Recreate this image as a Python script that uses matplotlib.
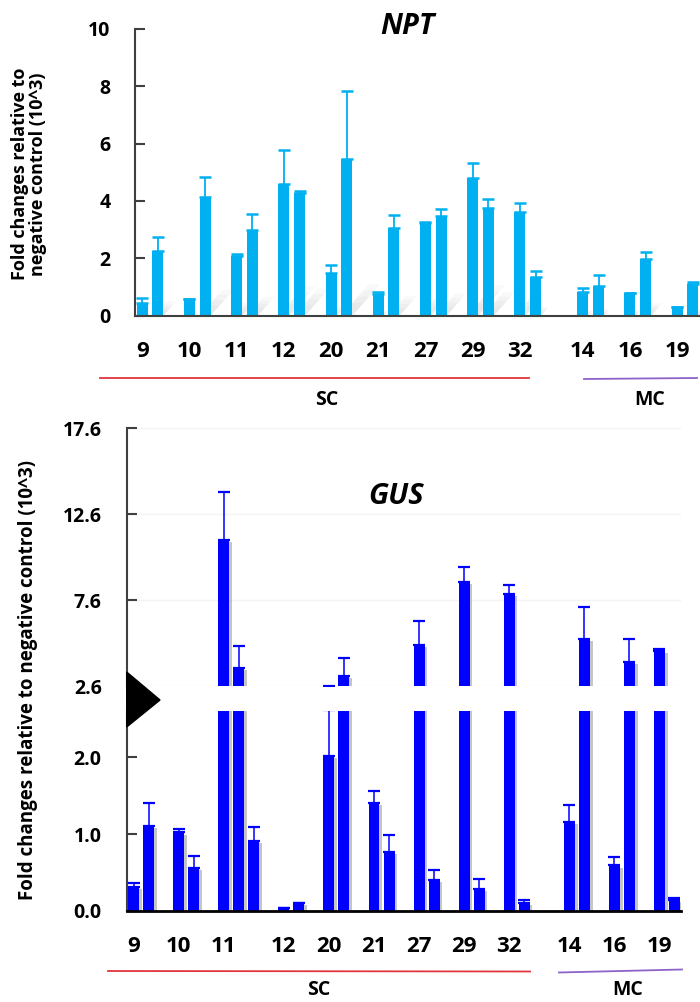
import matplotlib
matplotlib.use('Agg')
import matplotlib.pyplot as plt
import matplotlib.patheffects as pe
from matplotlib.patches import Polygon
from matplotlib.lines import Line2D
import numpy as np

plt.rcParams['font.family'] = ['Open Sans', 'DejaVu Sans']
plt.rcParams['font.weight'] = 'bold'

# ---------------- data ----------------
groups = ['9', '10', '11', '12', '20', '21', '27', '29', '32', '14', '16', '19']
clusters = ['SC', 'MC']
n_sc = 9  # first 9 groups belong to SC, remaining to MC

npt_values = [[0.44, 2.26], [0.57, 4.13], [2.08, 3.00], [4.59, 4.28], [1.48, 5.46],
              [0.77, 3.05], [3.22, 3.47], [4.80, 3.77], [3.61, 1.36], [0.84, 1.02],
              [0.79, 1.96], [0.32, 1.09]]
npt_errors = [[0.16, 0.47], [0.0, 0.71], [0.07, 0.56], [1.17, 0.08], [0.29, 2.37],
              [0.05, 0.46], [0.04, 0.25], [0.53, 0.28], [0.33, 0.20], [0.13, 0.39],
              [0.0, 0.26], [0.0, 0.08]]

gus_values = [[0.31, 1.10], [1.02, 0.56], [11.10, 3.67, 0.91], [0.04, 0.10], [2.02, 3.20],
              [1.40, 0.76], [4.97, 0.40], [8.66, 0.28], [7.94, 0.10], [1.16, 5.36],
              [0.59, 4.00], [4.64, 0.14]]
gus_errors = [[0.05, 0.31], [0.04, 0.15], [2.80, 1.24, 0.18], [0.0, 0.0], [0.60, 1.03],
              [0.16, 0.23], [1.44, 0.13], [0.89, 0.13], [0.52, 0.04], [0.22, 1.84],
              [0.11, 1.34], [0.12, 0.03]]

npt_ticks = [0, 2, 4, 6, 8, 10]
gus_upper_ticks = [2.6, 7.6, 12.6, 17.6]
gus_lower_ticks = [0.0, 1.0, 2.0]

NPT_COLOR = '#00B0F0'
GUS_COLOR = '#0000FF'
AX_COLOR = '#404040'


def layout(values):
    """slot positions: bars of a group side by side, one empty slot between groups,
    one extra empty slot between the SC and MC clusters"""
    pos = 0
    xs, first = [], []
    for i, vals in enumerate(values):
        if i == n_sc:
            pos += 1
        first.append(pos)
        for k, v in enumerate(vals):
            xs.append(pos + k)
        pos += len(vals) + 1
    return np.array(xs, float), first


def flat(lst):
    return np.array([v for g in lst for v in g], float)


W, H = 700, 1002
fig = plt.figure(figsize=(W / 100, H / 100), dpi=100)


def fx(px):
    return px / W


def fy(py):
    return 1 - py / H


def box(l, t, r, b):
    return [fx(l), fy(b), fx(r) - fx(l), fy(t) - fy(b)]


# ---------------- NPT panel ----------------
ax1 = fig.add_axes(box(134.7, 28.7, 700, 315.7))
x1, first1 = layout(npt_values)
v1 = flat(npt_values)
e1 = flat(npt_errors)
bw1 = 0.70
# soft perspective floor shadows behind the bars
for xc, h in zip(x1, v1):
    sh = min(0.22 * h, 1.1)
    for f in (1.0, 0.8, 0.6, 0.4):
        hh = sh * f
        dx = hh * 1.6
        ax1.add_patch(Polygon([(xc - bw1 / 2, 0), (xc + bw1 / 2, 0),
                               (xc + bw1 / 2 + dx, hh), (xc - bw1 / 2 + dx, hh)],
                              closed=True, facecolor='#9a9a9a', edgecolor='none',
                              alpha=0.06, zorder=1))
ax1.bar(x1, v1, width=bw1, color=NPT_COLOR, zorder=2)
ax1.errorbar(x1, v1, yerr=[np.zeros_like(e1), e1], fmt='none', ecolor=NPT_COLOR,
             elinewidth=1.3, capsize=4.5, capthick=1.8, zorder=3)
ax1.set_xlim(-0.48, 35.45)
ax1.set_ylim(0, 10)
for s in ['top', 'right']:
    ax1.spines[s].set_visible(False)
for s in ['left', 'bottom']:
    ax1.spines[s].set_color(AX_COLOR)
    ax1.spines[s].set_linewidth(1.5)
ax1.set_yticks(npt_ticks)
ax1.set_yticklabels([str(t) for t in npt_ticks])
ax1.tick_params(axis='y', direction='in', length=7, width=1.5, color=AX_COLOR,
                pad=17.5, labelsize=14)
ax1.set_xticks(first1)
ax1.set_xticklabels(groups)
ax1.tick_params(axis='x', length=0, pad=18.5, labelsize=16)
fig.text(fx(407), fy(26), 'NPT', fontsize=21, fontstyle='italic', fontweight='bold',
         ha='center', va='center')

# ---------------- GUS panel (broken axis) ----------------
x2, first2 = layout(gus_values)
v2 = flat(gus_values)
e2 = flat(gus_errors)
shadow = [pe.SimplePatchShadow(offset=(2, -1.5), shadow_rgbFace='#808080', alpha=0.45),
          pe.Normal()]

ax2 = fig.add_axes(box(126.7, 428.3, 680.7, 686))
ax3 = fig.add_axes(box(126.7, 711.3, 680.7, 910.7))
for ax in (ax2, ax3):
    bars = ax.bar(x2, v2, width=0.73, color=GUS_COLOR, zorder=2)
    for b in bars:
        b.set_path_effects(shadow)
    ax.errorbar(x2, v2, yerr=[np.zeros_like(e2), e2], fmt='none', ecolor=GUS_COLOR,
                elinewidth=1.1, capsize=4.5, capthick=1.6, zorder=3)
    ax.set_xlim(-0.466, 36.42)
    for s in ['top', 'right']:
        ax.spines[s].set_visible(False)
    ax.spines['left'].set_color(AX_COLOR)
    ax.spines['left'].set_linewidth(1.5)
    ax.tick_params(axis='y', direction='in', length=7, width=1.5, color=AX_COLOR,
                   pad=18, labelsize=14)

ax2.set_ylim(2.6, 17.6)
ax2.spines['bottom'].set_visible(False)
ax2.set_yticks(gus_upper_ticks)
ax2.set_yticklabels(['%.1f' % t for t in gus_upper_ticks])
ax2.set_xticks([])
ax2.yaxis.grid(True, color='#f3f3f3', linewidth=1.0, zorder=0)
ax2.set_axisbelow(True)

ax3.set_ylim(0, 2.6)
ax3.spines['bottom'].set_color('black')
ax3.spines['bottom'].set_linewidth(2)
ax3.set_yticks(gus_lower_ticks)
ax3.set_yticklabels(['%.1f' % t for t in gus_lower_ticks])
ax3.set_xticks(first2)
ax3.set_xticklabels(groups)
ax3.tick_params(axis='x', length=0, pad=18.5, labelsize=16)

fig.text(fx(396), fy(496), 'GUS', fontsize=21, fontstyle='italic', fontweight='bold',
         ha='center', va='center')

# break marker
tri = Polygon([(fx(126.7), fy(672)), (fx(126.7), fy(727)), (fx(160), fy(700))],
              closed=True, transform=fig.transFigure, facecolor='black',
              edgecolor='black', zorder=10)
fig.add_artist(tri)

# ---------------- cluster lines & labels ----------------
RED = '#E2353D'
PURPLE = '#8E63C9'
fig.add_artist(Line2D([fx(100), fx(529)], [fy(378.3), fy(378.3)], color=RED, lw=1.3))
fig.add_artist(Line2D([fx(584), fx(697)], [fy(379), fy(378)], color=PURPLE, lw=1.3))
fig.add_artist(Line2D([fx(108), fx(530)], [fy(971), fy(971.5)], color=RED, lw=1.3))
fig.add_artist(Line2D([fx(559), fx(682)], [fy(972.5), fy(969.5)], color=PURPLE, lw=1.3))

fig.text(fx(326.7), fy(400), clusters[0], fontsize=14, ha='center', va='center')
fig.text(fx(650), fy(400), clusters[1], fontsize=14, ha='center', va='center')
fig.text(fx(319), fy(990), clusters[0], fontsize=14, ha='center', va='center')
fig.text(fx(627.5), fy(990), clusters[1], fontsize=14, ha='center', va='center')

# ---------------- y labels ----------------
fig.text(fx(29), fy(174), 'Fold changes relative to\nnegative control (10^3)',
         rotation=90, ha='center', va='center', fontsize=13, linespacing=1.05,
         multialignment='center')
fig.text(fx(28), fy(680), 'Fold changes relative to negative control (10^3)',
         rotation=90, ha='center', va='center', fontsize=13.5)

fig.savefig('out.png', dpi=100)
